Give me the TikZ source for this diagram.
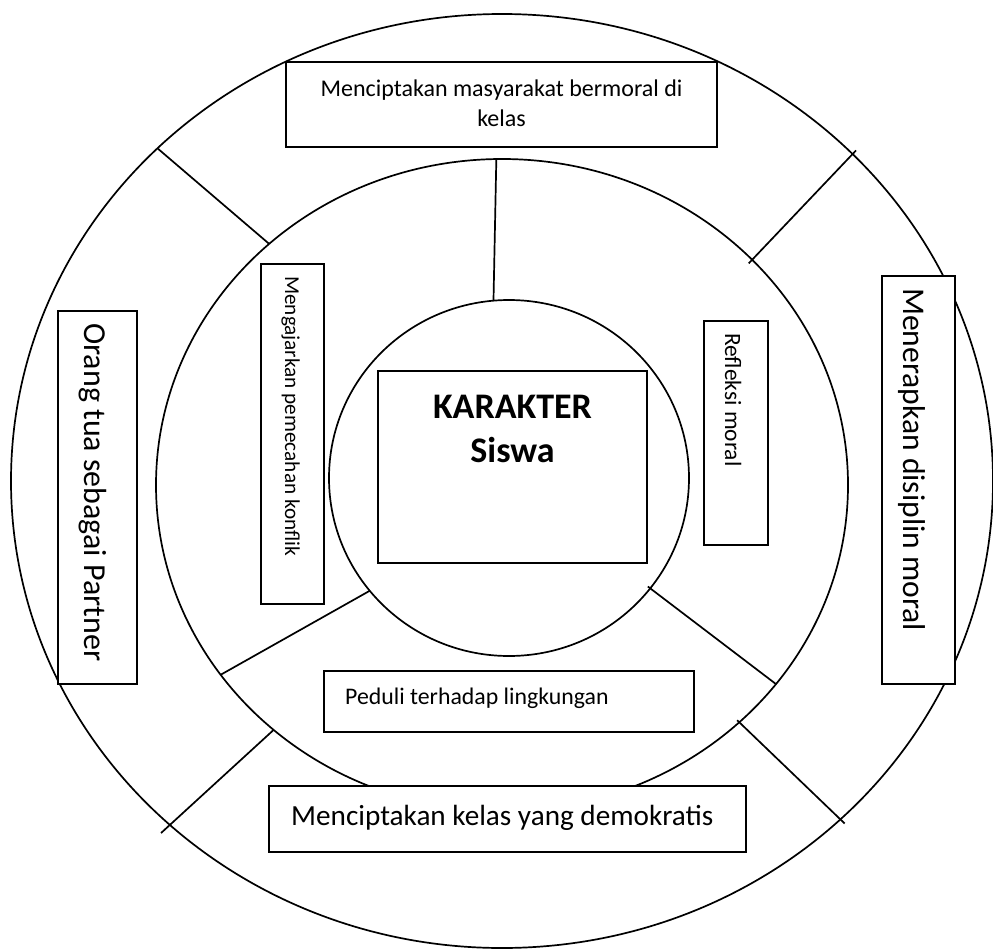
\documentclass[tikz,border=0pt]{standalone}
\usepackage{fontspec}
\setmainfont{Carlito}
\usetikzlibrary{shapes.geometric}
\tikzset{
  ring/.style={draw, ellipse, line width=1.7pt, inner sep=0pt, outer sep=0pt},
  spoke/.style={line width=1.7pt},
  frame/.style={draw, fill=white, line width=1.9pt, inner sep=0pt, outer sep=0pt},
  lbl/.style={inner sep=0pt, font=\fontsize{#1}{#1}\selectfont},
  lbl/.default=24,
}

\begin{document}
\begin{tikzpicture}[x=1pt, y=-1pt]
  \useasboundingbox (0,0) rectangle (993,950);
  % the three rings
  \node[ring, minimum width=982pt, minimum height=934pt] (outer) at (502,481) {};
  \node[ring, minimum width=692pt, minimum height=652pt] (middle) at (502,485) {};
  \node[ring, minimum width=360pt, minimum height=356pt] (inner) at (509,478) {};
  % spokes, inner ring
  \draw[spoke] (middle.91) -- (inner.95);
  \draw[spoke] (middle.214) -- (inner.219);
  \draw[spoke, shorten <=-3pt] (inner.322) -- (middle.324);
  % spokes, outer ring
  \draw[spoke] (outer.136) -- (middle.134);
  \draw[spoke, shorten <=-5pt, shorten >=-5pt] (outer.43) -- (middle.42);
  \draw[spoke, shorten >=-12pt] (middle.227) -- (outer.226);
  \draw[spoke, shorten <=-3pt, shorten >=-6pt] (middle.315) -- (outer.315);
  % boxes
  \node[frame, minimum width=431pt, minimum height=85pt] (masyarakat) at (501.5,104.5) {};
  \node[frame, minimum width=79pt, minimum height=373pt] (orangtua) at (97.5,497.5) {};
  \node[frame, minimum width=73pt, minimum height=408pt] (disiplin) at (918.5,480) {};
  \node[frame, minimum width=64pt, minimum height=224pt] (refleksi) at (736,433) {};
  \node[frame, minimum width=63pt, minimum height=340pt] (konflik) at (292.5,434) {};
  \node[frame, minimum width=370pt, minimum height=61pt] (peduli) at (509,701.5) {};
  \node[frame, minimum width=477pt, minimum height=66pt] (demokratis) at (507.5,819) {};
  \node[frame, minimum width=269pt, minimum height=192pt] (karakter) at (512.5,467) {};
  % texts
  \node[inner sep=0pt, align=center, font=\fontsize{24}{30}\selectfont] (tMasyarakat) at (501.5,103.5)
    {Menciptakan masyarakat bermoral di\\kelas};
  \node[inner sep=0pt, align=center, font=\fontsize{36}{44}\selectfont\bfseries] (tKarakter) at (512.5,428.5)
    {KARAKTER\\Siswa};
  \node[lbl=32, rotate=-90, anchor=base west] (tOrangtua) at (84,323) {Orang tua sebagai Partner};
  \node[lbl=31.6, rotate=-90, anchor=base west] (tDisiplin) at (903,288) {Menerapkan disiplin moral};
  \node[lbl=23.4, rotate=-90, anchor=base west] (tRefleksi) at (725,333) {Refleksi moral};
  \node[lbl=21.2, rotate=-90, anchor=base west] (tKonflik) at (285,276) {Mengajarkan pemecahan konflik};
  \node[lbl=23.8, anchor=base west] (tPeduli) at (345,704) {Peduli terhadap lingkungan};
  \node[lbl=29.2, anchor=base west] (tDemokratis) at (291,825) {Menciptakan kelas yang demokratis};
\end{tikzpicture}
\end{document}
